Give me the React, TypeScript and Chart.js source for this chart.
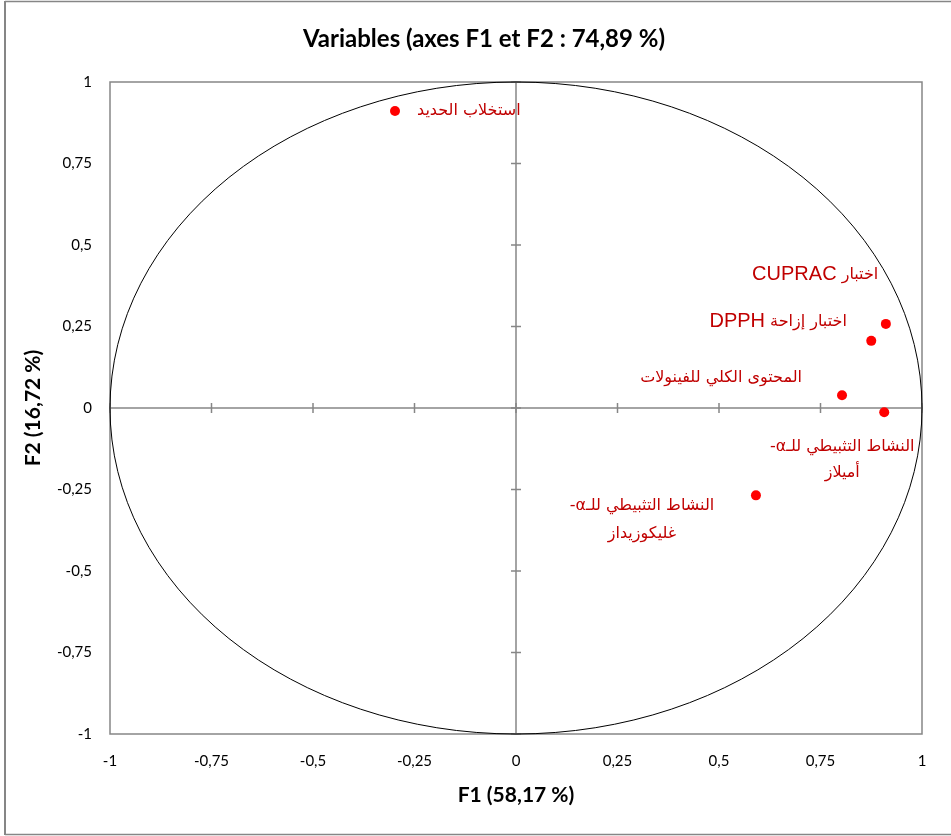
import React, { useEffect, useRef } from "react";
import { Chart, registerables } from "chart.js";

Chart.register(...registerables);

// ---- data ----
const variableNames: string[][] = [
  ["استخلاب الحديد"],
  ["اختبار CUPRAC"],
  ["اختبار إزاحة DPPH"],
  ["المحتوى الكلي للفينولات"],
  ["النشاط التثبيطي للـα-", "أميلاز"],
  ["النشاط التثبيطي للـα-", "غليكوزيداز"],
];
const f1Values: number[] = [-0.298, 0.875, 0.911, 0.803, 0.907, 0.591];
const f2Values: number[] = [0.911, 0.206, 0.258, 0.039, -0.013, -0.268];
const tickValues: number[] = [-1, -0.75, -0.5, -0.25, 0, 0.25, 0.5, 0.75, 1];
const chartTitle = "Variables (axes F1 et F2 : 74,89 %)";
const xTitle = "F1 (58,17 %)";
const yTitle = "F2 (16,72 %)";

// ---- label placement (pixel offsets relative to each point; style only) ----
const labelStyle: { dx: number; dy: number; align: "left" | "right" | "center"; lineGap: number }[] = [
  { dx: 22, dy: 0, align: "left", lineGap: 27 },
  { dx: 7, dy: -66, align: "right", lineGap: 27 },
  { dx: -39, dy: -2, align: "right", lineGap: 27 },
  { dx: -40, dy: -17, align: "right", lineGap: 27 },
  { dx: -42, dy: 35, align: "center", lineGap: 26 },
  { dx: -114, dy: 10, align: "center", lineGap: 28 },
];

const GRAY = "#868686";
const LABEL_RED = "#c00000";
const LATIN = 'Lato, "Open Sans", sans-serif';
const ARABIC_FONT = '16px "DejaVu Sans", sans-serif';
const LATIN_LABEL_FONT = '20px "Liberation Sans", Arial, sans-serif';

const fmt = (v: number) => String(v).replace(".", ",");

// draws one right-to-left line, Latin-letter runs in a separate font
function drawRtlLine(
  ctx: CanvasRenderingContext2D,
  text: string,
  x: number,
  y: number,
  align: "left" | "right" | "center"
) {
  const tokens = text.split(/([A-Za-z]+)/).filter((t) => t.length > 0);
  const parts = tokens.map((t) => {
    const font = /^[A-Za-z]+$/.test(t) ? LATIN_LABEL_FONT : ARABIC_FONT;
    ctx.font = font;
    return { t, font, w: ctx.measureText(t).width };
  });
  const total = parts.reduce((s, p) => s + p.w, 0);
  let rightEdge = x;
  if (align === "left") rightEdge = x + total;
  else if (align === "center") rightEdge = x + total / 2;
  (ctx as any).direction = "rtl";
  ctx.textAlign = "right";
  let cur = rightEdge;
  parts.forEach((p) => {
    ctx.font = p.font;
    ctx.fillText(p.t, cur, y);
    cur -= p.w;
  });
}

const decorPlugin = {
  id: "decor",
  beforeDatasetsDraw(chart: any) {
    const ctx: CanvasRenderingContext2D = chart.ctx;
    const { left, right, top, bottom } = chart.chartArea;
    const xs = chart.scales.x;
    const ys = chart.scales.y;
    ctx.save();
    // outer frame
    ctx.strokeStyle = GRAY;
    ctx.lineWidth = 2;
    ctx.beginPath();
    ctx.moveTo(5, 1);
    ctx.lineTo(5, 835);
    ctx.stroke();
    ctx.lineWidth = 1.5;
    ctx.beginPath();
    ctx.moveTo(5, 1.5);
    ctx.lineTo(chart.width + 10, 1.5);
    ctx.moveTo(5, 834.5);
    ctx.lineTo(chart.width + 10, 834.5);
    ctx.stroke();
    // plot border
    ctx.lineWidth = 1.5;
    ctx.strokeRect(left, top, right - left, bottom - top);
    // zero lines
    const x0 = xs.getPixelForValue(0);
    const y0 = ys.getPixelForValue(0);
    ctx.beginPath();
    ctx.moveTo(left, y0);
    ctx.lineTo(right, y0);
    ctx.moveTo(x0, top);
    ctx.lineTo(x0, bottom);
    ctx.stroke();
    // tick marks on the zero lines
    ctx.beginPath();
    tickValues.forEach((v) => {
      const px = xs.getPixelForValue(v);
      ctx.moveTo(px, y0 - 5);
      ctx.lineTo(px, y0 + 5);
      const py = ys.getPixelForValue(v);
      ctx.moveTo(x0 - 5, py);
      ctx.lineTo(x0 + 5, py);
    });
    ctx.stroke();
    // correlation circle
    const cx = xs.getPixelForValue(0);
    const cy = ys.getPixelForValue(0);
    const rx = xs.getPixelForValue(1) - cx;
    const ry = cy - ys.getPixelForValue(1);
    ctx.strokeStyle = "#000000";
    ctx.lineWidth = 1;
    ctx.beginPath();
    ctx.ellipse(cx, cy, rx, ry, 0, 0, Math.PI * 2);
    ctx.stroke();
    ctx.restore();
  },
  afterDatasetsDraw(chart: any) {
    const ctx: CanvasRenderingContext2D = chart.ctx;
    const xs = chart.scales.x;
    const ys = chart.scales.y;
    ctx.save();
    ctx.fillStyle = LABEL_RED;
    ctx.textBaseline = "middle";
    variableNames.forEach((lines, i) => {
      const px = xs.getPixelForValue(f1Values[i]);
      const py = ys.getPixelForValue(f2Values[i]);
      const st = labelStyle[i];
      lines.forEach((line, j) => {
        drawRtlLine(ctx, line, px + st.dx, py + st.dy + j * st.lineGap, st.align);
      });
    });
    ctx.restore();
  },
  afterDraw(chart: any) {
    const ctx: CanvasRenderingContext2D = chart.ctx;
    const { left, right, top, bottom } = chart.chartArea;
    ctx.save();
    ctx.fillStyle = "#000000";
    ctx.textBaseline = "middle";
    ctx.textAlign = "center";
    ctx.font = `bold 24px ${LATIN}`;
    ctx.fillText(chartTitle, 484, 39);
    ctx.font = `bold 21px ${LATIN}`;
    ctx.fillText(xTitle, (left + right) / 2, 795);
    ctx.translate(33, (top + bottom) / 2);
    ctx.rotate(-Math.PI / 2);
    ctx.fillText(yTitle, 0, 0);
    ctx.restore();
  },
};

export default function App() {
  const canvasRef = useRef<HTMLCanvasElement | null>(null);

  useEffect(() => {
    if (!canvasRef.current) return;
    const chart = new Chart(canvasRef.current, {
      type: "scatter",
      data: {
        datasets: [
          {
            data: f1Values.map((x, i) => ({ x, y: f2Values[i] })),
            pointRadius: 5,
            pointHoverRadius: 5,
            pointBackgroundColor: "#ff0000",
            pointBorderColor: "#ff0000",
            pointBorderWidth: 0,
          },
        ],
      },
      options: {
        animation: false,
        responsive: false,
        devicePixelRatio: 1,
        layout: { padding: { top: 82, right: 29, left: 0, bottom: 0 } },
        plugins: {
          legend: { display: false },
          title: { display: false },
          tooltip: { enabled: false },
        },
        scales: {
          x: {
            type: "linear",
            min: -1,
            max: 1,
            afterBuildTicks: (s: any) => {
              s.ticks = tickValues.map((value) => ({ value }));
            },
            afterFit: (s: any) => {
              s.height = 102;
            },
            grid: { display: false },
            border: { display: false },
            ticks: {
              padding: 10,
              color: "#000000",
              font: { family: LATIN, size: 15 },
              callback: (v: any) => fmt(Number(v)),
              maxRotation: 0,
            },
          },
          y: {
            type: "linear",
            min: -1,
            max: 1,
            afterBuildTicks: (s: any) => {
              s.ticks = tickValues.map((value) => ({ value }));
            },
            afterFit: (s: any) => {
              s.width = 110;
            },
            grid: { display: false },
            border: { display: false },
            ticks: {
              padding: 10,
              color: "#000000",
              font: { family: LATIN, size: 15 },
              callback: (v: any) => fmt(Number(v)),
            },
          },
        },
      },
      plugins: [decorPlugin],
    });
    return () => chart.destroy();
  }, []);

  return (
    <div style={{ position: "absolute", left: 0, top: 0, width: 951, height: 836, background: "#ffffff" }}>
      <canvas ref={canvasRef} width={951} height={836} style={{ width: 951, height: 836, display: "block" }} />
    </div>
  );
}
